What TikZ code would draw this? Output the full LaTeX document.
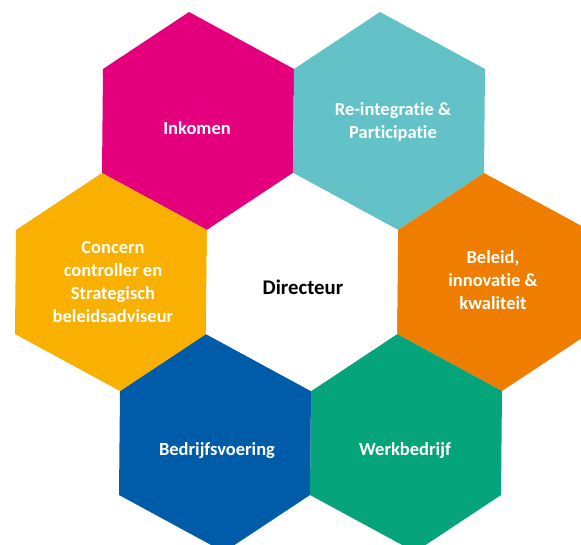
\documentclass[tikz,border=0pt]{standalone}
\usepackage{fontspec}
\setmainfont{Carlito}[Ligatures=NoCommon]
\definecolor{cMag}{RGB}{228,0,124}
\definecolor{cTeal}{RGB}{98,194,200}
\definecolor{cOrange}{RGB}{239,125,0}
\definecolor{cGreen}{RGB}{6,164,122}
\definecolor{cBlue}{RGB}{0,92,169}
\definecolor{cYellow}{RGB}{249,176,0}
\begin{document}
\begin{tikzpicture}[x=1pt,y=-1pt,
  hexpic/.pic={\fill[pic actions] (-9,-109) -- (96,-52) -- (95,52) -- (9,109) -- (-96,52) -- (-95,-52) -- cycle;},
  lbl/.style={align=center, text=white, font=\bfseries\fontsize{18.5}{22.7}\selectfont, inner sep=0pt},
  clbl/.style={lbl, text=black, font=\bfseries\fontsize{20.8}{24}\selectfont}]
\useasboundingbox (0,0) rectangle (581,544);
\clip (0,0) rectangle (581,544);
\coordinate (hInk) at (198,121);
\coordinate (hRe) at (389,121);
\coordinate (hBel) at (493,282);
\coordinate (hWerk) at (406,443);
\coordinate (hBed) at (215,443);
\coordinate (hCon) at (111,282);
\coordinate (hDir) at (302,282);
\pic[fill=cMag] at (hInk) {hexpic};
\pic[fill=cTeal] at (hRe) {hexpic};
\pic[fill=cOrange] at (hBel) {hexpic};
\pic[fill=cGreen] at (hWerk) {hexpic};
\pic[fill=cBlue] at (hBed) {hexpic};
\pic[fill=cYellow] at (hCon) {hexpic};
\pic[fill=white] at (hDir) {hexpic};
\node[lbl] (tInk) at (197,128) {Inkomen};
\node[lbl] (tRe) at (393,122) {Re-integratie \&\\Participatie};
\node[lbl] (tBel) at (493,280) {Beleid,\\innovatie \&\\kwaliteit};
\node[lbl] (tWerk) at (405,451) {Werkbedrijf};
\node[lbl] (tBed) at (217,451) {Bedrijfsvoering};
\node[lbl] (tCon) at (113,282) {Concern\\controller en\\Strategisch\\beleidsadviseur};
\node[clbl] (tDir) at (303,287) {Directeur};
\end{tikzpicture}
\end{document}
